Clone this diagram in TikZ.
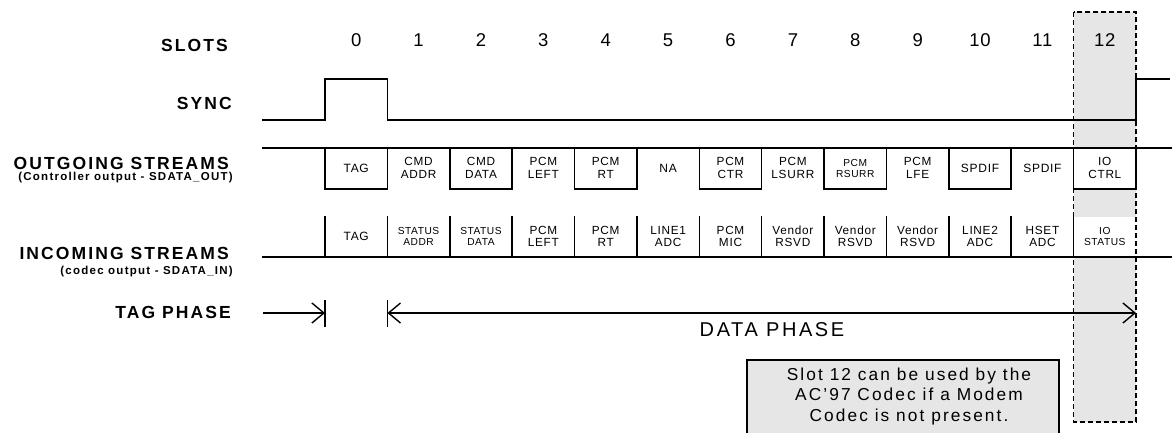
\documentclass[tikz,border=0pt]{standalone}
\usepackage{fontspec}
\setmainfont{Liberation Sans}
\usetikzlibrary{arrows.meta}
\definecolor{slotgray}{HTML}{E6E6E6}
\begin{document}
\begin{tikzpicture}[x=1pt,y=-1pt,
  wire/.style={line width=1.5pt, line cap=rect},
  slotborder/.style={line width=1.3pt, dash pattern=on 5pt off 3pt},
  lbl/.style={font={\fontsize{17.5}{19}\selectfont\bfseries\addfontfeature{LetterSpace=12}}, anchor=east, inner sep=0pt},
  sublbl/.style={font={\fontsize{11.5}{13}\selectfont\bfseries\addfontfeature{LetterSpace=11}}, anchor=east, inner sep=0pt},
  slotnum/.style={font={\fontsize{18.5}{20}\selectfont\addfontfeature{LetterSpace=4}}, inner sep=0pt},
  cone/.style={font={\fontsize{12}{13}\selectfont\addfontfeature{LetterSpace=6}}, align=center, inner sep=0pt},
  ctwo/.style={font={\fontsize{11.8}{12.5}\selectfont\addfontfeature{LetterSpace=6}}, align=center, inner sep=0pt},
  csm/.style={font={\fontsize{10.2}{11}\selectfont\addfontfeature{LetterSpace=5}}, align=center, inner sep=0pt},
  phasearrow/.style={line width=1.4pt, {Straight Barb[length=12pt,width=20pt,line width=1.4pt]}-{Straight Barb[length=12pt,width=20pt,line width=1.4pt]}},
  phasetip/.style={line width=1.4pt, -{Straight Barb[length=12pt,width=20pt,line width=1.4pt]}},
  notebox/.style={fill=slotgray, draw=black, line width=1.2pt},
  notetext/.style={font={\fontsize{17.3}{20.5}\selectfont\addfontfeature{LetterSpace=12}}, align=center, inner sep=0pt}
]
\clip (0,0) rectangle (1173,432);
\def\sw{62.385}
% slot 12 highlight
\fill[slotgray] (1073.6,12) rectangle (1136,422);
\fill[white] (1073.6,148) rectangle (1136,189);
\fill[white] (1073.6,217) rectangle (1136,257);
\draw[slotborder] (1073.6,12) rectangle (1136,422);

% left labels
\node[lbl] (lslots) at (228,45.5) {SLOTS};
\node[lbl] (lsync) at (232,103) {SYNC};
\node[lbl] (lout) at (229,163.5) {OUTGOING STREAMS};
\node[sublbl] (lout2) at (233,177.5) {(Controller output - SDATA\_OUT)};
\node[lbl] (lin) at (229,253) {INCOMING STREAMS};
\node[sublbl] (lin2) at (233,271.5) {(codec output - SDATA\_IN)};
\node[lbl] (ltag) at (231,312.5) {TAG PHASE};

% slot numbers
\foreach \i in {0,...,12}
  \node[slotnum] (num\i) at ({325+(\i+0.5)*\sw},40) {\i};

% sync waveform
\draw[wire] (263,120) -- (325,120) -- (325,79) -- (387.4,79) -- (387.4,120) -- (1136,120) -- (1136,79) -- (1169,79);

% outgoing streams
\draw[wire] (263,148) -- (1171,148);
\foreach \i in {0,...,13}
  \draw[wire] ({325+\i*\sw},148) -- ({325+\i*\sw},189);
\foreach \i in {0,2,...,12}
  \draw[wire] ({325+\i*\sw},189) -- ({325+(\i+1)*\sw},189);

% incoming streams
\draw[wire] (263,257) -- (1171,257);
\foreach \i in {0,...,12}
  \draw[wire] ({325+\i*\sw},217) -- ({325+\i*\sw},257);

% outgoing cell texts
\foreach \i/\t/\s in {0/TAG/cone, 1/{CMD\\ADDR}/ctwo, 2/{CMD\\DATA}/ctwo, 3/{PCM\\LEFT}/ctwo,
  4/{PCM\\RT}/ctwo, 5/NA/cone, 6/{PCM\\CTR}/ctwo, 7/{PCM\\LSURR}/ctwo, 8/{PCM\\RSURR}/csm,
  9/{PCM\\LFE}/ctwo, 10/SPDIF/cone, 11/SPDIF/cone, 12/{IO\\CTRL}/ctwo}
  \node[\s] (out\i) at ({325+(\i+0.5)*\sw},168) {\t};

% incoming cell texts
\foreach \i/\t/\s in {0/TAG/cone, 1/{STATUS\\ADDR}/csm, 2/{STATUS\\DATA}/csm, 3/{PCM\\LEFT}/ctwo,
  4/{PCM\\RT}/ctwo, 5/{LINE1\\ADC}/ctwo, 6/{PCM\\MIC}/ctwo, 7/{Vendor\\RSVD}/ctwo, 8/{Vendor\\RSVD}/ctwo,
  9/{Vendor\\RSVD}/ctwo, 10/{LINE2\\ADC}/ctwo, 11/{HSET\\ADC}/ctwo, 12/{IO\\STATUS}/csm}
  \node[\s] (in\i) at ({325+(\i+0.5)*\sw},236.5) {\t};

% phases
\coordinate (tpa) at (263,313);
\coordinate (tpb) at (325,313);
\coordinate (tbar1) at (325,300);
\coordinate (tbar2) at (325,327);
\coordinate (dpa) at (387.4,313);
\coordinate (dpb) at (1136,313);
\coordinate (dbar1) at (387.4,300);
\coordinate (dbar2) at (387.4,327);
\draw[phasetip] (tpa) -- (tpb);
\draw[line width=1.4pt] (tbar1) -- (tbar2);
\draw[phasearrow] (dpa) -- (dpb);
\draw[line width=1.4pt] (dbar1) -- (dbar2);
\node[font={\fontsize{20}{22}\selectfont\addfontfeature{LetterSpace=13}}, inner sep=0pt] (dphase) at (772,330) {DATA PHASE};

% note
\draw[notebox] (747,360) rectangle (1059,440);
\node[notetext] (note) at (909,396.5) {Slot 12 can be used by the\\AC'97 Codec if a Modem\\Codec is not present.};
\end{tikzpicture}
\end{document}
